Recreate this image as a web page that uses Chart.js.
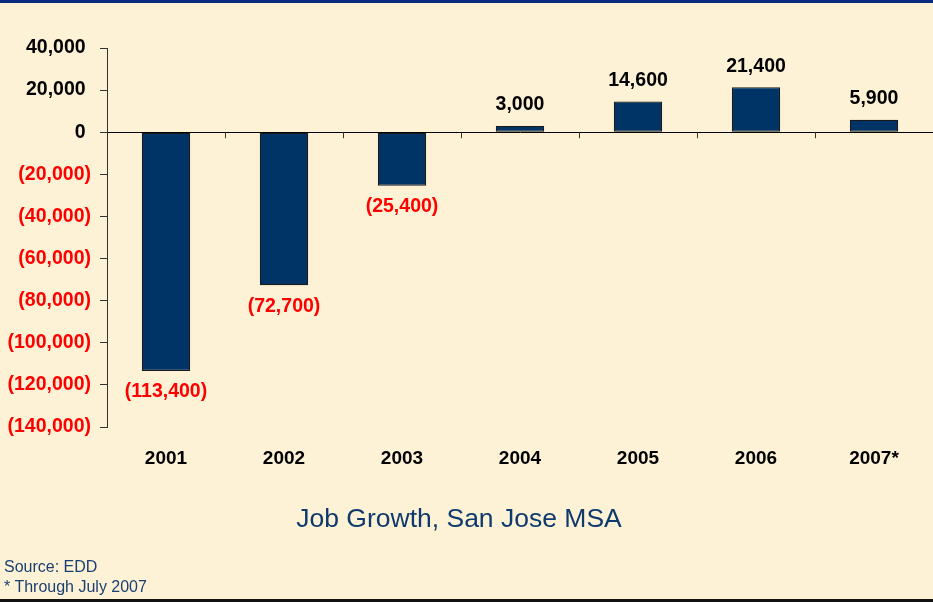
<!DOCTYPE html>
<html>
<head>
<meta charset="utf-8">
<script src="https://cdn.jsdelivr.net/npm/chart.js@4"></script>
<style>
  html, body { margin: 0; padding: 0; background: #fdf2d5; }
  #wrap { position: relative; width: 933px; height: 602px; overflow: hidden; background: #fdf2d5; }
  #topbar { position: absolute; left: 0; top: 0; width: 933px; height: 3px; background: #0b2a82; }
  #bottombar { position: absolute; left: 0; bottom: 0; width: 933px; height: 3px; background: #111; }
  #chart { position: absolute; left: 0; top: 0; }
  #title { position: absolute; left: 0; width: 918px; top: 503px; text-align: center; font-family: "Liberation Sans", Arial, sans-serif; font-size: 26.5px; color: #0e3a6e; }
  .note { position: absolute; left: 4px; font-family: "Liberation Sans", Arial, sans-serif; font-size: 16px; color: #1a3f73; }
</style>
</head>
<body>
<div id="wrap">
  <canvas id="chart" width="933" height="602"></canvas>
  <div id="topbar"></div>
  <div id="title">Job Growth, San Jose MSA</div>
  <div class="note" style="top:558px">Source: EDD</div>
  <div class="note" style="top:578px">* Through July 2007</div>
  <div id="bottombar"></div>
</div>
<script>
const years = ["2001", "2002", "2003", "2004", "2005", "2006", "2007*"];
const jobGrowth = [-113400, -72700, -25400, 3000, 14600, 21400, 5900];
const yTicks = [40000, 20000, 0, -20000, -40000, -60000, -80000, -100000, -120000, -140000];

const FONT = "'Liberation Sans', Arial, sans-serif";

function fmt(v) {
  const s = Math.abs(v).toLocaleString("en-US");
  return v < 0 ? `(${s})` : s;
}

// labels above/below each bar, plus little category ticks on the zero line
const barLabels = {
  id: "barLabels",
  afterDatasetsDraw(chart) {
    const { ctx } = chart;
    const meta = chart.getDatasetMeta(0);
    const x = chart.scales.x;
    const y = chart.scales.y;
    const zero = y.getPixelForValue(0);

    ctx.save();
    ctx.strokeStyle = "#333";
    ctx.lineWidth = 1;
    for (let i = 0; i < years.length - 1; i++) {
      const bx = Math.round((x.getPixelForValue(i) + x.getPixelForValue(i + 1)) / 2) + 0.5;
      ctx.beginPath();
      ctx.moveTo(bx, zero);
      ctx.lineTo(bx, zero + 6);
      ctx.stroke();
    }

    ctx.font = `bold 19.5px ${FONT}`;
    ctx.textAlign = "center";
    ctx.textBaseline = "middle";
    meta.data.forEach((bar, i) => {
      const v = jobGrowth[i];
      if (v < 0) {
        ctx.fillStyle = "#ff0000";
        ctx.fillText(fmt(v), bar.x, bar.y + 21);
      } else {
        ctx.fillStyle = "#000";
        ctx.fillText(fmt(v), bar.x, bar.y - 21);
      }
    });
    ctx.restore();
  },
};

new Chart(document.getElementById("chart"), {
  type: "bar",
  data: {
    labels: years,
    datasets: [
      {
        data: jobGrowth,
        backgroundColor: "#003366",
        borderColor: "#1a1a1a",
        borderWidth: 1.2,
        borderSkipped: false,
        categoryPercentage: 1,
        barPercentage: 0.41,
      },
    ],
  },
  options: {
    responsive: false,
    animation: false,
    events: [],
    layout: { padding: { top: 48, right: 0, bottom: 0, left: 0 } },
    plugins: {
      legend: { display: false },
      tooltip: { enabled: false },
    },
    scales: {
      x: {
        afterFit(scale) {
          scale.height = 175;
        },
        grid: { display: false },
        border: { display: false },
        ticks: {
          color: "#000",
          padding: 12,
          font: { family: FONT, size: 19, weight: "bold" },
        },
      },
      y: {
        min: -140000,
        max: 40000,
        afterBuildTicks(scale) {
          scale.ticks = yTicks.map((value) => ({ value }));
        },
        afterFit(scale) {
          scale.width = 107;
        },
        border: { display: true, color: "#333", width: 1 },
        grid: {
          drawOnChartArea: true,
          color: (c) => (c.tick && c.tick.value === 0 ? "#000" : "rgba(0,0,0,0)"),
          tickColor: "#333",
          tickLength: 7,
        },
        ticks: {
          padding: 9,
          color: (c) => (c.tick && c.tick.value < 0 ? "#ff0000" : "#000"),
          font: { family: FONT, size: 19.5, weight: "bold" },
          // positives keep a trailing space so digits line up with the "(...)" labels
          callback: (v) => (v < 0 ? fmt(v) : fmt(v) + " "),
        },
      },
    },
  },
  plugins: [barLabels],
});
</script>
</body>
</html>
